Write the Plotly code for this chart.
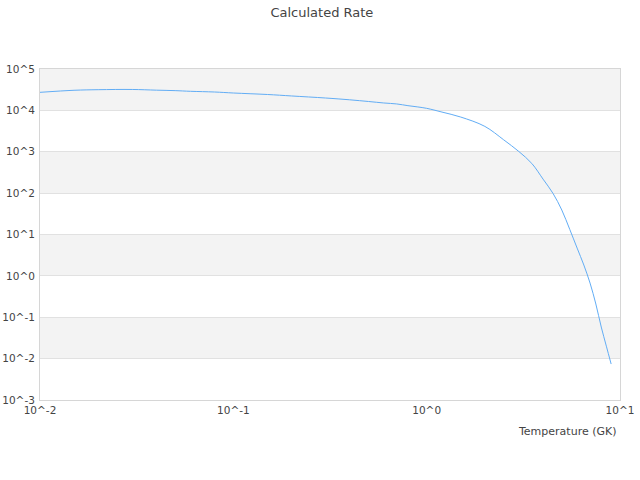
import plotly.graph_objects as go

temperature_gk = [0.01, 0.015, 0.02, 0.03, 0.04, 0.05, 0.06, 0.08, 0.1, 0.15, 0.2, 0.3,
                  0.4, 0.5, 0.6, 0.7, 0.8, 0.9, 1.0, 1.2, 1.5, 2.0, 2.5, 3.0, 3.5, 4.0,
                  4.5, 5.0, 5.5, 6.0, 6.5, 7.0, 7.5, 8.0, 8.5, 9.0]
rate = [2.73e4, 3.06e4, 3.16e4, 3.2e4, 3.08e4, 3.0e4, 2.89e4, 2.78e4, 2.63e4, 2.42e4,
        2.23e4, 1.99e4, 1.80e4, 1.64e4, 1.51e4, 1.43e4, 1.30e4, 1.21e4, 1.12e4, 9.1e3,
        6.9e3, 4.1e3, 1.95e3, 1.01e3, 520, 218, 99, 39, 13.2, 4.7, 1.83, 0.67, 0.209,
        0.058, 0.020, 7.4e-3]

x_exponents = [-2, -1, 0, 1]
y_exponents = [-3, -2, -1, 0, 1, 2, 3, 4, 5]
x_ticktext = ["10^" + str(e) for e in x_exponents]
y_ticktext = ["10^" + str(e) for e in y_exponents]

FONT = "DejaVu Sans"
GRID = "#e1e1e1"

fig = go.Figure()
fig.add_trace(go.Scatter(x=temperature_gk, y=rate, mode="lines",
                         line=dict(color="#62adf5", width=1, shape="spline", smoothing=1.0),
                         showlegend=False, hoverinfo="x+y"))

# alternating shaded decade bands
shapes = []
for i in range(len(y_exponents) - 1):
    lo = y_exponents[i]
    if (y_exponents[-1] - lo) % 2 == 1:
        shapes.append(dict(type="rect", xref="paper", yref="y", x0=0, x1=1,
                           y0=10 ** lo, y1=10 ** (lo + 1), fillcolor="#f3f3f3",
                           line_width=0, layer="below"))

fig.update_layout(
    width=640, height=480,
    paper_bgcolor="white", plot_bgcolor="white",
    margin=dict(l=40, r=20, t=69, b=80),
    font=dict(family=FONT, size=10.5, color="#444"),
    title=dict(text="Calculated Rate", x=0.503, xref="container", y=0.975,
               yref="container", yanchor="middle",
               font=dict(family=FONT, size=13, color="#444")),
    shapes=shapes,
    xaxis=dict(type="log", range=[x_exponents[0], x_exponents[-1]],
               tickvals=[10 ** e for e in x_exponents], ticktext=x_ticktext,
               showgrid=False, showline=True, linecolor="#d6d6d6", linewidth=1,
               mirror=True, ticks="", zeroline=False, automargin=False),
    yaxis=dict(type="log", range=[y_exponents[0], y_exponents[-1]],
               tickvals=[10 ** e for e in y_exponents], ticktext=y_ticktext,
               showgrid=True, gridcolor=GRID, gridwidth=1,
               showline=True, linecolor="#d6d6d6", linewidth=1, mirror=True,
               ticks="", zeroline=False, automargin=False, ticklabelstandoff=2),
    annotations=[dict(text="Temperature (GK)", xref="paper", yref="paper",
                      x=1, y=0, xanchor="right", yanchor="middle", yshift=-31,
                      xshift=-1, showarrow=False,
                      font=dict(family=FONT, size=11, color="#444"))],
)

fig.write_html("out.html", config={"displayModeBar": False},
               post_script="document.body.style.margin='0';")
